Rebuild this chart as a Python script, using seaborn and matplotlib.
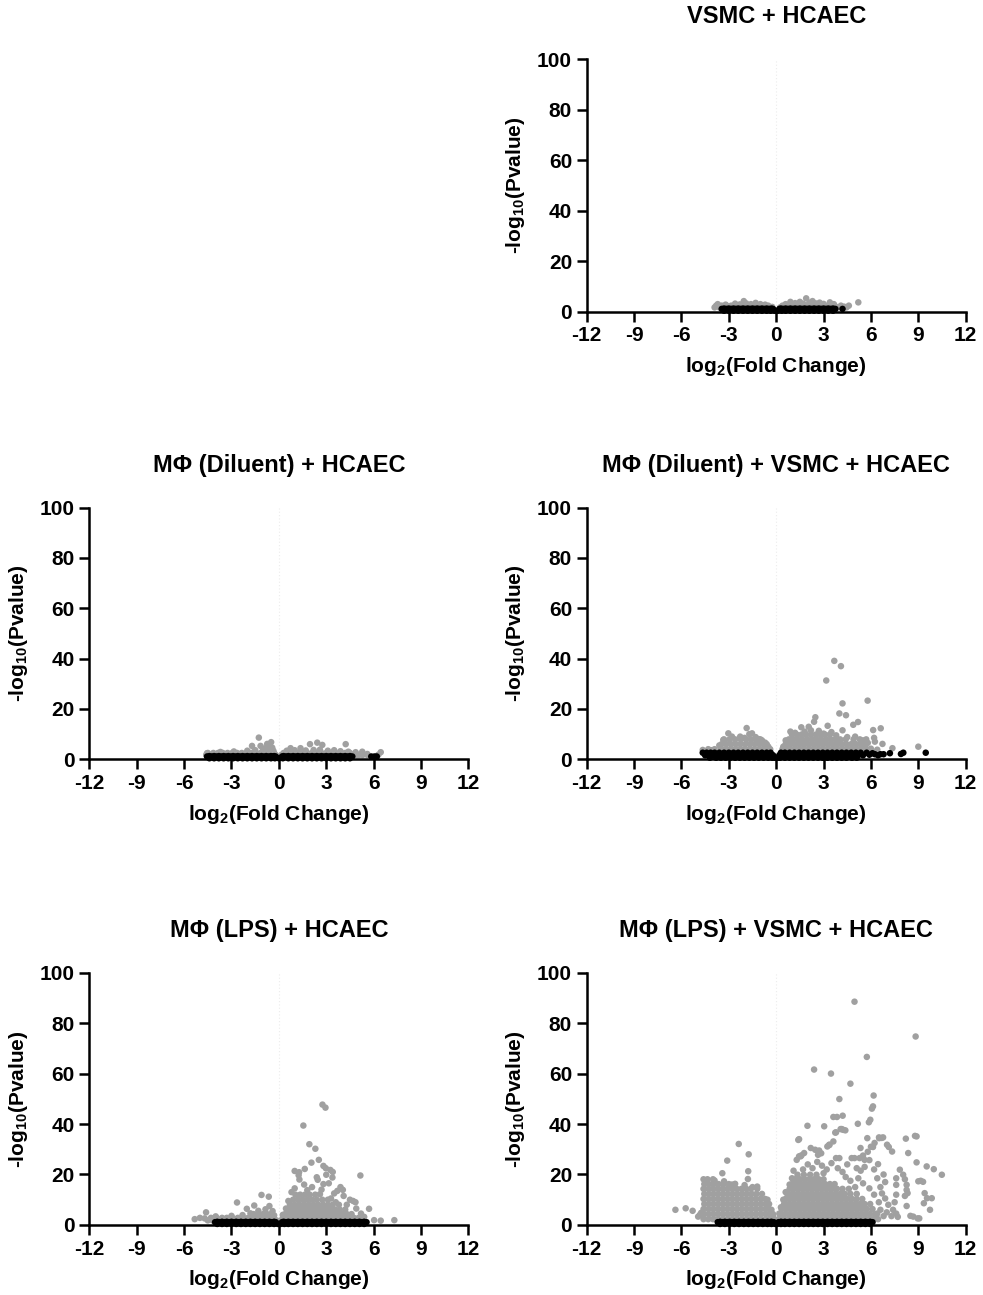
import matplotlib
matplotlib.use("Agg")
import matplotlib.pyplot as plt
import numpy as np
import pandas as pd
import seaborn as sns

# ---------------- data ----------------
# each "rows" entry: (-log10 P, [log2 FC values]) ; "pts": individual (log2 FC, -log10 P)

titles = ["VSMC + HCAEC", "MΦ (Diluent) + HCAEC", "MΦ (Diluent) + VSMC + HCAEC",
          "MΦ (LPS) + HCAEC", "MΦ (LPS) + VSMC + HCAEC"]

x_ticks = [-12, -9, -6, -3, 0, 3, 6, 9, 12]
y_ticks = [0, 20, 40, 60, 80, 100]

# ---- Panel 1: VSMC + HCAEC
p1_gray_rows = [
    (1.7, [-3.9, -3.6, -3.3, -3.0, -2.7, -2.4, -2.1, -1.8, -1.5, -1.2, -0.9, -0.6, -0.35,
           0.25, 0.55, 0.85, 1.15, 1.45, 1.75, 2.05, 2.35, 2.65, 2.95, 3.25, 3.55, 3.85, 4.15, 4.45]),
    (2.4, [-3.8, -3.45, -3.15, -2.85, -2.55, -2.25, -1.95, -1.65, -1.35, -1.05, -0.75, -0.5,
           0.4, 0.7, 1.0, 1.3, 1.6, 1.9, 2.2, 2.5, 2.8, 3.1, 3.4, 3.7, 4.1, 4.6]),
]
p1_gray_pts = [(-3.7, 3.0), (-3.2, 2.8), (-2.6, 3.2), (-2.3, 2.9), (-2.05, 4.2), (-1.9, 3.3),
               (-1.6, 3.0), (-1.3, 3.5), (-1.0, 3.0), (-0.7, 2.8), (-0.25, 1.9), (0.6, 3.0),
               (0.9, 3.9), (1.2, 3.4), (1.5, 3.9), (1.7, 3.2), (1.9, 5.3), (2.1, 3.6), (2.3, 4.2),
               (2.5, 3.3), (2.75, 3.6), (3.0, 3.1), (3.4, 3.7), (3.65, 3.0), (4.3, 2.0), (5.2, 3.7)]
p1_black_rows = [
    (1.1, [-3.45, -3.15, -2.85, -2.55, -2.25, -1.95, -1.65, -1.35, -1.05, -0.75, -0.45, -0.2,
           0.2, 0.45, 0.75, 1.05, 1.35, 1.65, 1.95, 2.25, 2.55, 2.85, 3.15, 3.45, 3.75, 4.2]),
    (1.25, [-3.3, -3.0, -2.7, -2.4, -2.1, -1.8, -1.5, -1.2, -0.9, -0.6, -0.3,
            0.3, 0.6, 0.9, 1.2, 1.5, 1.8, 2.1, 2.4, 2.7, 3.0, 3.3, 3.6]),
    (0.4, [-3.3, -3.0, -2.7, -2.4, -2.1, -1.8, -1.5, -1.2, -0.9, -0.6, -0.35, -0.1,
           0.1, 0.35, 0.6, 0.9, 1.2, 1.5, 1.8, 2.1, 2.4, 2.7, 3.0, 3.3, 3.6]),
]
p1_black_pts = []

# ---- Panel 2: MΦ (Diluent) + HCAEC
p2_gray_rows = [
    (1.7, [-4.6, -4.3, -4.0, -3.7, -3.4, -3.1, -2.8, -2.5, -2.2, -1.9, -1.6, -1.3, -1.0, -0.7, -0.4, -0.2,
           0.15, 0.45, 0.75, 1.05, 1.35, 1.65, 1.95, 2.25, 2.55, 2.85, 3.15, 3.45, 3.75, 4.05, 4.35,
           4.65, 4.95, 5.3, 5.6]),
    (2.5, [-4.5, -4.15, -3.85, -3.55, -3.25, -2.95, -2.65, -2.35, -2.05, -1.75, -1.45, -1.15, -0.85,
           -0.55, -0.3, 0.3, 0.6, 0.9, 1.2, 1.5, 1.8, 2.1, 2.4, 2.7, 3.0, 3.3, 3.6, 3.9, 4.2, 4.5]),
]
p2_gray_pts = [(-3.7, 2.9), (-2.85, 3.1), (-2.0, 3.4), (-1.7, 5.3), (-1.5, 3.6), (-1.27, 8.6),
               (-1.16, 5.3), (-1.0, 3.8), (-0.85, 4.4), (-0.74, 6.1), (-0.63, 3.7), (-0.49, 6.8),
               (-0.42, 4.6), (-0.58, 5.0), (-0.35, 3.4), (0.5, 3.4), (0.74, 4.4), (1.0, 3.6),
               (1.37, 4.4), (1.7, 3.5), (1.97, 6.0), (2.2, 3.7), (2.43, 6.6), (2.75, 5.7), (2.6, 3.8),
               (3.1, 3.4), (3.5, 3.6), (3.9, 3.2), (4.23, 6.0), (4.4, 3.0), (4.86, 2.8), (5.07, 1.7),
               (5.28, 3.0), (5.6, 2.1), (6.45, 2.8), (6.3, 1.8), (-4.55, 2.4)]
p2_black_rows = [
    (1.1, [-4.55, -4.25, -3.95, -3.65, -3.35, -3.05, -2.75, -2.45, -2.15, -1.85, -1.55, -1.25, -0.95,
           -0.65, -0.4, -0.2, 0.2, 0.45, 0.75, 1.05, 1.35, 1.65, 1.95, 2.25, 2.55, 2.85, 3.15, 3.45,
           3.75, 4.05, 4.35, 4.65, 5.85, 6.05, 6.2]),
    (1.25, [-4.4, -4.1, -3.8, -3.5, -3.2, -2.9, -2.6, -2.3, -2.0, -1.7, -1.4, -1.1, -0.8, -0.5, -0.3,
            0.3, 0.6, 0.9, 1.2, 1.5, 1.8, 2.1, 2.4, 2.7, 3.0, 3.3, 3.6, 3.9, 4.2, 4.5]),
    (0.4, [-4.4, -4.1, -3.8, -3.5, -3.2, -2.9, -2.6, -2.3, -2.0, -1.7, -1.4, -1.1, -0.8, -0.5, -0.25,
           0.0, 0.25, 0.6, 0.9, 1.2, 1.5, 1.8, 2.1, 2.4, 2.7, 3.0, 3.3, 3.6, 3.9, 4.2, 4.5]),
]
p2_black_pts = []

# ---- Panel 3: MΦ (Diluent) + VSMC + HCAEC
p3_gray_rows = [
    (4.0, [-4.3, -3.5, -3.2, -2.9, -2.6, -2.3, -2.0, -1.7, -1.4, -1.1, -0.8, -0.55, -0.38,
           0.4, 0.65, 0.95, 1.25, 1.55, 1.85, 2.15, 2.45, 2.75, 3.05, 3.35, 3.65, 3.95, 4.25, 4.55,
           4.85, 5.15, 5.45, 5.75]),
    (6.0, [-3.45, -3.15, -2.85, -2.55, -2.25, -1.95, -1.65, -1.35, -1.05, -0.8, -0.6,
           0.6, 0.85, 1.15, 1.45, 1.75, 2.05, 2.35, 2.65, 2.95, 3.25, 3.55, 3.85, 4.15, 4.45, 4.75,
           5.05, 5.35, 5.6]),
    (7.9, [-3.3, -2.95, -2.6, -2.25, -1.9, -1.6, -1.3, -1.0,
           0.8, 1.05, 1.35, 1.65, 1.95, 2.25, 2.55, 2.85, 3.15, 3.45, 3.75, 4.05, 4.4, 4.9, 5.3, 5.7]),
    (9.8, [1.0, 1.3, 1.6, 1.9, 2.2, 2.5, 2.8, 3.1, 3.4]),
]
p3_gray_pts = [(-3.35, 7.7), (-3.03, 10.3), (-2.8, 9.0), (-2.28, 9.0), (-2.0, 8.5), (-1.87, 12.4),
               (-1.7, 10.0), (-1.53, 10.3), (-1.3, 8.8), (-1.1, 8.0), (-0.9, 7.5), (-0.7, 6.6),
               (-0.5, 5.0), (-0.4, 3.8), (-4.65, 3.7), (-3.9, 4.0), (-3.6, 5.5), (-4.1, 3.6),
               (0.9, 11.0), (1.2, 10.5), (1.59, 12.7), (2.06, 12.9), (2.4, 14.9), (2.48, 16.7),
               (2.2, 11.5), (2.7, 11.3), (3.0, 10.2), (3.26, 13.3), (3.5, 10.8), (3.8, 9.5),
               (4.2, 11.5), (4.5, 8.8), (4.88, 13.7), (5.18, 14.8), (5.0, 9.0), (5.5, 7.5),
               (5.8, 6.5), (6.14, 11.6), (6.62, 12.3), (6.2, 8.5), (6.25, 7.0), (6.73, 6.1),
               (7.36, 4.4), (9.0, 5.0), (4.0, 18.2), (4.42, 17.5), (4.2, 22.2), (5.79, 23.3),
               (3.17, 31.3), (3.68, 39.1), (4.1, 37.0), (6.0, 4.2), (6.4, 3.8), (0.45, 5.0),
               (0.6, 7.5), (1.8, 11.0)]
p3_black_rows = [
    (2.6, [-4.65, -4.4, -4.15, -3.9, -3.6, -3.3, -3.0, -2.7, -2.4, -2.1, -1.8, -1.5, -1.2, -0.9,
           -0.6, -0.35, 0.3, 0.55, 0.85, 1.15, 1.45, 1.75, 2.05, 2.35, 2.65, 2.95, 3.25, 3.55,
           3.85, 4.15, 4.45, 4.75, 5.05, 5.35, 5.73]),
    (1.6, [-4.5, -4.25, -3.95, -3.65, -3.35, -3.05, -2.75, -2.45, -2.15, -1.85, -1.55, -1.25,
           -0.95, -0.65, -0.4, -0.2, 0.2, 0.4, 0.7, 1.0, 1.3, 1.6, 1.9, 2.2, 2.5, 2.8, 3.1, 3.4,
           3.7, 4.0, 4.3, 4.6, 4.9, 5.2, 5.5]),
    (0.6, [-4.2, -3.8, -3.5, -3.2, -2.9, -2.6, -2.3, -2.0, -1.7, -1.4, -1.1, -0.8, -0.5, -0.25,
           -0.08, 0.08, 0.25, 0.55, 0.85, 1.15, 1.45, 1.75, 2.05, 2.35, 2.65, 2.95, 3.25, 3.55,
           3.85, 4.15, 4.45, 4.8, 5.1]),
]
p3_black_pts = [(5.9, 1.8), (6.1, 2.4), (6.25, 2.0), (6.45, 1.6), (6.6, 2.0), (6.8, 2.0),
                (7.2, 2.4), (7.9, 2.1), (8.05, 2.6), (9.47, 2.6)]

# ---- Panel 4: MΦ (LPS) + HCAEC
p4_gray_rows = [
    (1.8, [-4.5, -4.2, -3.9, -3.6, -3.3, -3.0, -2.7, -2.4, -2.1, -1.8, -1.5, -1.2, -0.9, -0.6,
           -0.35, -0.15, 0.15, 0.45, 0.75, 1.05, 1.35, 1.65, 1.95, 2.25, 2.55, 2.85, 3.15, 3.45,
           3.75, 4.05, 4.35, 4.65, 4.95, 5.25]),
    (2.8, [-4.3, -3.95, -3.6, -3.3, -2.95, -2.6, -2.25, -1.95, -1.65, -1.35, -1.05, -0.8, -0.55,
           -0.35, 0.25, 0.55, 0.85, 1.15, 1.45, 1.75, 2.05, 2.35, 2.65, 2.95, 3.25, 3.55, 3.85,
           4.15, 4.45, 4.75, 5.05]),
    (4.3, [-1.6, -1.3, -1.0, -0.75, -0.5, 0.4, 0.7, 1.0, 1.3, 1.6, 1.9, 2.2, 2.5, 2.8, 3.1, 3.4,
           3.7, 4.0, 4.3, 4.6]),
    (6.1, [0.55, 0.85, 1.15, 1.45, 1.75, 2.05, 2.35, 2.65, 2.95, 3.25, 3.55, 3.85, 4.2]),
    (8.0, [0.7, 1.0, 1.3, 1.6, 1.9, 2.2, 2.5, 2.8, 3.1, 3.4, 3.8]),
    (10.0, [0.9, 1.2, 1.5, 1.8, 2.1, 2.4, 2.75, 3.1]),
    (12.0, [1.05, 1.35, 1.65, 1.95, 2.3]),
]
p4_gray_pts = [(-5.33, 2.3), (-5.0, 2.8), (-4.7, 2.6), (-4.61, 5.0), (-4.0, 3.4), (-3.0, 3.6),
               (-2.65, 8.9), (-2.3, 3.9), (-2.03, 6.4), (-1.8, 4.6), (-1.56, 7.7), (-1.3, 5.6),
               (-1.1, 11.9), (-0.64, 11.2), (-0.6, 7.5), (-0.85, 6.2), (-0.4, 5.5), (-0.3, 3.8),
               (2.76, 47.7), (2.95, 46.5), (1.55, 39.4), (1.93, 32.0), (2.31, 30.2), (2.53, 25.8),
               (2.06, 24.7), (2.82, 23.4), (2.97, 22.5), (3.26, 21.8), (3.41, 21.0), (1.0, 21.4),
               (1.28, 20.9), (1.64, 22.2), (5.16, 19.6), (3.39, 18.8), (2.4, 18.9), (2.46, 17.9),
               (3.0, 19.9), (1.25, 19.7), (1.3, 18.0), (2.82, 16.2), (3.16, 16.5), (3.9, 15.0),
               (4.05, 13.9), (1.6, 16.0), (2.1, 15.0), (2.7, 14.0), (3.5, 12.5), (1.0, 14.5),
               (0.8, 13.0), (1.8, 13.8), (4.5, 10.0), (4.7, 9.5), (4.85, 9.0), (4.3, 8.0),
               (4.9, 6.5), (5.2, 4.5), (5.71, 6.4), (6.03, 1.9), (6.45, 1.7), (7.31, 1.9),
               (5.4, 3.2), (0.25, 4.0), (0.45, 6.5), (0.6, 9.5), (2.6, 12.2), (3.3, 10.5),
               (3.6, 9.0), (4.1, 11.5), (3.7, 13.5)]
p4_black_rows = [
    (1.1, [-4.04, -3.75, -3.45, -3.15, -2.85, -2.55, -2.25, -1.95, -1.65, -1.35, -1.05, -0.75,
           -0.45, -0.2, 0.2, 0.45, 0.75, 1.05, 1.35, 1.65, 1.95, 2.25, 2.55, 2.85, 3.15, 3.45,
           3.75, 4.05, 4.35, 4.65, 4.95, 5.25, 5.55]),
    (1.25, [-3.9, -3.6, -3.3, -3.0, -2.7, -2.4, -2.1, -1.8, -1.5, -1.2, -0.9, -0.6, -0.3,
            0.3, 0.6, 0.9, 1.2, 1.5, 1.8, 2.1, 2.4, 2.7, 3.0, 3.3, 3.6, 3.9, 4.2, 4.5, 4.8,
            5.1, 5.4]),
    (0.4, [-3.9, -3.6, -3.3, -3.0, -2.7, -2.4, -2.1, -1.8, -1.5, -1.2, -0.9, -0.6, -0.3, -0.05,
           0.1, 0.35, 0.6, 0.9, 1.2, 1.5, 1.8, 2.1, 2.4, 2.7, 3.0, 3.3, 3.6, 3.9, 4.2, 4.5, 4.8,
           5.1, 5.4]),
]
p4_black_pts = []

# ---- Panel 5: MΦ (LPS) + VSMC + HCAEC
p5_gray_rows = [
    (2.3, [-4.6, -4.3, -4.0, -3.7, -3.4, -3.1, -2.8, -2.5, -2.2, -1.9, -1.6, -1.3, -1.0, -0.7, -0.4,
           -0.15, 0.15, 0.45, 0.75, 1.05, 1.35, 1.65, 1.95, 2.25, 2.55, 2.85, 3.15, 3.45, 3.75,
           4.05, 4.35, 4.65, 4.95, 5.25, 5.55, 5.85, 6.15, 6.45]),
    (4.3, [-4.55, -4.25, -3.95, -3.65, -3.35, -3.05, -2.75, -2.45, -2.15, -1.85, -1.55, -1.25,
           -0.95, -0.65, -0.4, -0.2, 0.25, 0.55, 0.85, 1.15, 1.45, 1.75, 2.05, 2.35, 2.65, 2.95,
           3.25, 3.55, 3.85, 4.15, 4.45, 4.75, 5.05, 5.35, 5.65, 5.95, 6.3]),
    (6.3, [-4.6, -4.3, -4.0, -3.7, -3.4, -3.1, -2.8, -2.5, -2.2, -1.9, -1.6, -1.3, -1.0, -0.7,
           -0.45, 0.35, 0.65, 0.95, 1.25, 1.55, 1.85, 2.15, 2.45, 2.75, 3.05, 3.35, 3.65, 3.95,
           4.25, 4.55, 4.85, 5.15, 5.45, 5.75, 6.1]),
    (8.3, [-4.55, -4.25, -3.95, -3.65, -3.35, -3.05, -2.75, -2.45, -2.15, -1.85, -1.55, -1.25,
           -0.95, -0.65, -0.45, 0.5, 0.8, 1.1, 1.4, 1.7, 2.0, 2.3, 2.6, 2.9, 3.2, 3.5, 3.8, 4.1,
           4.4, 4.7, 5.0, 5.3, 5.6, 5.95]),
    (10.3, [-4.6, -4.3, -4.0, -3.7, -3.4, -3.1, -2.8, -2.5, -2.2, -1.9, -1.6, -1.3, -1.0, -0.7,
            0.6, 0.9, 1.2, 1.5, 1.8, 2.1, 2.4, 2.7, 3.0, 3.3, 3.6, 3.9, 4.2, 4.5, 4.8, 5.1, 5.45]),
    (12.3, [-4.55, -4.25, -3.95, -3.65, -3.35, -3.05, -2.75, -2.45, -2.15, -1.85, -1.55, -1.25,
            -0.9, 0.75, 1.05, 1.35, 1.65, 1.95, 2.25, 2.55, 2.85, 3.15, 3.45, 3.75, 4.05, 4.35,
            4.7, 5.1]),
    (14.3, [-4.6, -4.3, -4.0, -3.7, -3.4, -3.1, -2.8, -2.5, -2.2, -1.9, -1.6, -1.2, 0.85, 1.15,
            1.45, 1.75, 2.05, 2.35, 2.65, 2.95, 3.25, 3.55, 3.85, 4.2, 4.6]),
    (16.2, [-4.55, -4.25, -3.95, -3.65, -3.35, -3.0, 1.0, 1.3, 1.6, 1.9, 2.2, 2.5, 2.8, 3.1, 3.4, 3.7]),
    (18.1, [-4.6, -4.35, -4.0, 1.2, 1.5, 1.8, 2.1, 2.4, 2.7, 3.0]),
    (19.9, [1.35, 1.75, 2.15, 2.55]),
]
p5_gray_pts = [(-6.38, 6.0), (-5.73, 6.6), (-5.29, 5.6), (-4.83, 4.0), (-4.94, 3.3), (-4.75, 4.8),
               (-2.37, 32.1), (-1.74, 28.0), (-3.1, 25.5), (-3.41, 20.5), (-1.77, 21.3),
               (-1.79, 18.2), (-2.6, 16.3), (-2.0, 15.8), (-1.5, 15.0), (-1.2, 15.2), (-3.3, 17.3),
               (-2.8, 16.0), (-3.9, 17.6), (-0.3, 6.0), (-0.55, 10.0), (-0.2, 3.5),
               (4.96, 88.5), (8.83, 74.7), (5.74, 66.6), (2.4, 61.6), (3.47, 60.0), (4.7, 56.0),
               (6.17, 51.3), (4.0, 49.9), (6.13, 47.0), (6.06, 46.1), (5.96, 41.7), (5.87, 40.7),
               (3.62, 42.8), (3.85, 42.8), (4.21, 43.3), (5.17, 40.1), (1.98, 39.3), (3.04, 39.1),
               (4.15, 38.0), (4.38, 37.5), (3.79, 36.7), (1.45, 34.0), (5.77, 34.4), (6.51, 34.7),
               (6.77, 34.7), (8.21, 34.2), (8.89, 35.1), (7.02, 31.8), (7.13, 30.9), (6.23, 32.5),
               (6.13, 30.9), (3.36, 31.8), (2.19, 30.5), (2.47, 29.8), (2.72, 29.5), (5.34, 30.5),
               (4.96, 26.5), (5.28, 26.5), (5.6, 25.8), (3.79, 26.5), (4.0, 26.5), (7.34, 29.1),
               (8.36, 28.5), (1.45, 27.2), (1.55, 27.2), (1.77, 28.5), (8.89, 24.8), (9.53, 23.2),
               (9.98, 22.1), (10.49, 19.9), (7.83, 21.9), (8.04, 19.9), (8.15, 18.1), (8.26, 15.9),
               (8.26, 13.9), (8.32, 12.6), (8.15, 11.5), (7.6, 18.5), (7.6, 15.9), (9.0, 17.3),
               (9.15, 17.5), (9.3, 17.1), (9.4, 12.6), (9.55, 10.6), (9.35, 8.6), (9.85, 10.6),
               (9.74, 6.0), (8.26, 7.5), (8.68, 3.3), (8.96, 2.6), (9.06, 2.6), (8.5, 3.6),
               (7.6, 12.0), (7.5, 9.0), (7.4, 6.0), (7.6, 4.5), (7.3, 3.5), (7.7, 3.2), (7.0, 5.0),
               (7.1, 8.0), (6.9, 10.5), (6.7, 12.5), (6.6, 15.0), (6.9, 17.0), (6.4, 18.5),
               (6.8, 20.0), (6.45, 24.1), (6.2, 22.0), (5.9, 25.7), (5.6, 23.0), (5.35, 21.5),
               (5.1, 22.5), (4.78, 26.5), (4.5, 24.0), (4.2, 21.0), (3.9, 22.5), (3.5, 24.5),
               (3.2, 22.0), (2.9, 23.5), (2.6, 25.0), (2.3, 22.5), (2.0, 24.0), (1.7, 22.0),
               (1.3, 25.8), (1.1, 21.5), (2.85, 28.4), (2.65, 27.8), (3.24, 31.1), (3.37, 31.7),
               (3.62, 33.1), (1.6, 27.6), (4.25, 37.7), (4.08, 38.0), (3.74, 36.6), (6.53, 34.4),
               (6.68, 34.5), (8.79, 35.3), (1.4, 33.7), (5.5, 27.5), (5.8, 29.0), (6.0, 31.0),
               (5.2, 18.5), (5.5, 16.5), (5.9, 14.5), (6.2, 12.0), (6.5, 9.0), (6.6, 6.0),
               (6.8, 3.5), (6.4, 4.5), (4.4, 19.0), (3.0, 20.5), (4.7, 17.5), (5.0, 15.0),
               (1.0, 18.5), (0.85, 16.0), (0.6, 13.0), (0.45, 10.0), (0.3, 7.0), (0.2, 4.5),
               (0.7, 11.0)]
p5_black_rows = [
    (1.1, [-3.7, -3.4, -3.1, -2.8, -2.5, -2.2, -1.9, -1.6, -1.3, -1.0, -0.7, -0.4, -0.15, 0.15, 0.4,
           0.7, 1.0, 1.3, 1.6, 1.9, 2.2, 2.5, 2.8, 3.1, 3.4, 3.7, 4.0, 4.3, 4.6, 4.9, 5.2, 5.5,
           5.8, 6.1]),
    (1.25, [-3.55, -3.25, -2.95, -2.65, -2.35, -2.05, -1.75, -1.45, -1.15, -0.85, -0.55, -0.3,
            0.3, 0.55, 0.85, 1.15, 1.45, 1.75, 2.05, 2.35, 2.65, 2.95, 3.25, 3.55, 3.85, 4.15,
            4.45, 4.75, 5.05, 5.35, 5.65, 5.95]),
    (0.4, [-3.55, -3.25, -2.95, -2.65, -2.35, -2.05, -1.75, -1.45, -1.15, -0.85, -0.55, -0.3,
           -0.05, 0.05, 0.3, 0.55, 0.85, 1.15, 1.45, 1.75, 2.05, 2.35, 2.65, 2.95, 3.25, 3.55,
           3.85, 4.15, 4.45, 4.75, 5.05, 5.35, 5.65, 5.95]),
]
p5_black_pts = []

panels = [
    (p1_gray_rows, p1_gray_pts, p1_black_rows, p1_black_pts),
    (p2_gray_rows, p2_gray_pts, p2_black_rows, p2_black_pts),
    (p3_gray_rows, p3_gray_pts, p3_black_rows, p3_black_pts),
    (p4_gray_rows, p4_gray_pts, p4_black_rows, p4_black_pts),
    (p5_gray_rows, p5_gray_pts, p5_black_rows, p5_black_pts),
]

GRAY = "#a0a0a0"
BLACK = "#000000"


def collect(rows, pts, label):
    xs, ys = [], []
    for yv, xl in rows:
        xs += list(xl)
        ys += [yv] * len(xl)
    for xv, yv in pts:
        xs.append(xv)
        ys.append(yv)
    return pd.DataFrame({"log2fc": xs, "nlogp": ys, "status": label})


# ---------------- style ----------------
sns.set_theme(style="ticks")
plt.rcParams["font.family"] = ["Liberation Sans", "DejaVu Sans"]
plt.rcParams["font.weight"] = "bold"
plt.rcParams["axes.titleweight"] = "bold"
plt.rcParams["axes.labelweight"] = "bold"
plt.rcParams["text.color"] = "black"
plt.rcParams["axes.labelcolor"] = "black"
plt.rcParams["xtick.color"] = "black"
plt.rcParams["ytick.color"] = "black"
plt.rcParams["mathtext.fontset"] = "custom"
plt.rcParams["mathtext.rm"] = "Liberation Sans:bold"
plt.rcParams["mathtext.it"] = "Liberation Sans:bold"
plt.rcParams["mathtext.bf"] = "Liberation Sans:bold"

fig = plt.figure(figsize=(9.83, 12.95), dpi=100)

rects = [
    [0.5968, 0.7593, 0.3856, 0.1949],
    [0.0909, 0.4137, 0.3856, 0.1943],
    [0.5968, 0.4137, 0.3856, 0.1943],
    [0.0909, 0.0541, 0.3856, 0.1948],
    [0.5968, 0.0541, 0.3856, 0.1948],
]

for (grows, gpts, brows, bpts), title, rect in zip(panels, titles, rects):
    ax = fig.add_axes(rect)
    df = pd.concat([collect(grows, gpts, "sig"), collect(brows, bpts, "ns")], ignore_index=True)
    ax.axvline(0, color="#ececec", lw=0.8, ls=(0, (1, 2)), zorder=0)
    sns.scatterplot(data=df, x="log2fc", y="nlogp", hue="status",
                    palette={"sig": GRAY, "ns": BLACK}, s=22, linewidth=0,
                    legend=False, ax=ax, clip_on=False, zorder=3)
    ax.set_xlim(-12, 12)
    ax.set_ylim(0, 100)
    ax.set_xticks(x_ticks)
    ax.set_yticks(y_ticks)
    ax.set_xticklabels([str(t) for t in x_ticks])
    ax.set_yticklabels([str(t) for t in y_ticks])
    for side in ["top", "right"]:
        ax.spines[side].set_visible(False)
    for side in ["left", "bottom"]:
        ax.spines[side].set_linewidth(1.8)
        ax.spines[side].set_color("black")
        ax.spines[side].set_zorder(4)
    ax.tick_params(axis="both", direction="out", length=7.5, width=1.8, color="black",
                   labelsize=15, pad=3, labelcolor="black")
    ax.set_xlabel("log$_2$(Fold Change)", fontsize=15, fontweight="bold", labelpad=7)
    ax.set_ylabel("-log$_{10}$(Pvalue)", fontsize=15, fontweight="bold", labelpad=7)
    ax.set_title(title, fontsize=17, fontweight="bold", pad=26)
    ax.set_facecolor("white")

fig.savefig("out.png", dpi=100, facecolor="white")
